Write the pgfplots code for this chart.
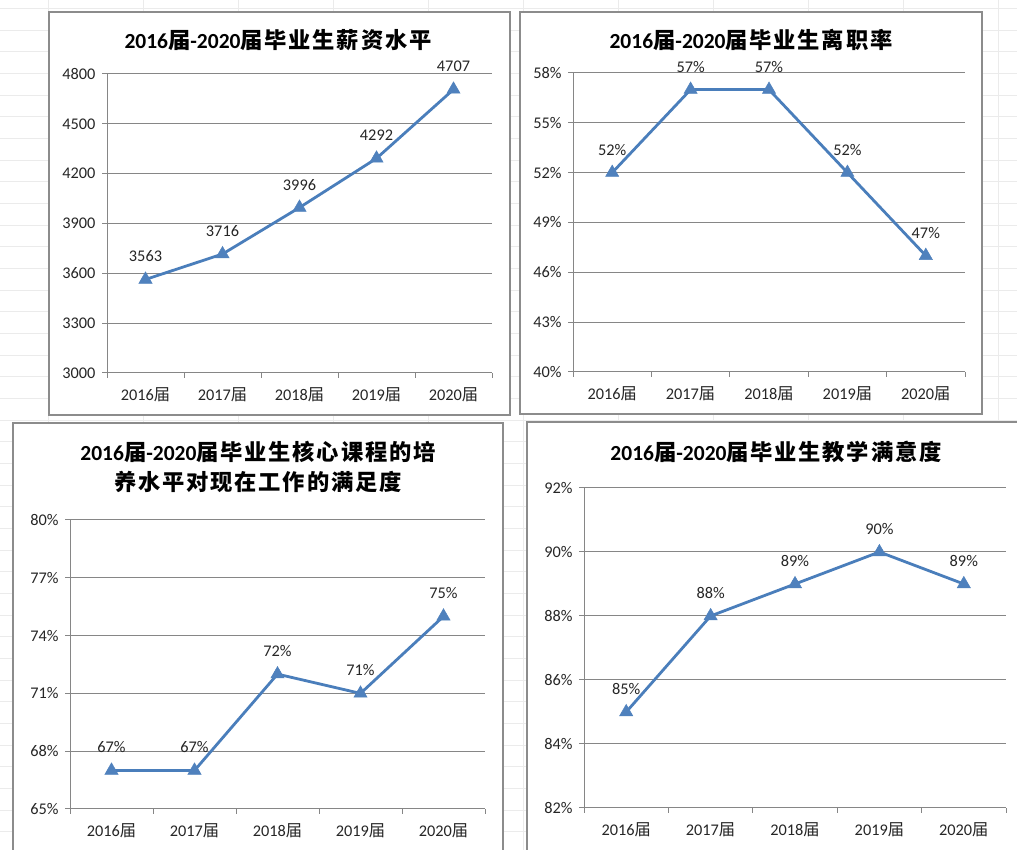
\documentclass[border=0pt]{standalone}
\usepackage{fontspec}
\setmainfont{Carlito}
\newfontfamily\cjk{Noto Sans CJK SC}
\newfontfamily\cjkt[LetterSpace=8]{Noto Sans CJK SC}
\usepackage{pgfplots}
\pgfplotsset{compat=1.18}

\definecolor{xlblue}{HTML}{4A7EBB}
\definecolor{xlmark}{HTML}{4F81BD}
\definecolor{xlgrid}{HTML}{868686}
\definecolor{xlframe}{HTML}{8C8C8C}
\definecolor{xltext}{HTML}{262626}

\newcommand\J{{\cjk 届}}
\newcommand\tf{\fontsize{16.3bp}{19bp}\selectfont}
\newcommand\ct[1]{{\cjkt\fontsize{22.3bp}{30bp}\selectfont #1}}
\newcommand\hd{2016\ct{届}-2020\ct{届}}

\pgfplotsset{
  xl/.style={
    scale only axis, anchor=south west,
    xmin=0.5, xmax=5.5,
    xtick={0.5,1.5,...,5.5},
    x tick label as interval,
    xticklabels={2016\J,2017\J,2018\J,2019\J,2020\J},
    axis x line*=bottom, axis y line*=left,
    axis line style={draw=xlgrid, line width=1bp, -},
    tick align=outside, major tick length=5bp,
    tick style={draw=xlgrid, line width=1bp},
    ymajorgrids, grid style={draw=xlgrid, line width=1bp},
    ticklabel style={font=\tf, text=xltext},
    xticklabel style={yshift=-6bp},
    yticklabel style={xshift=-3bp},
    point meta=explicit symbolic,
    nodes near coords,
    every node near coord/.append style={font=\tf, text=xltext, anchor=base, yshift=17.5bp},
    clip=false,
  },
  ln/.style={xlblue, line width=2.8bp, mark=triangle*, mark size=7.6bp,
    mark options={fill=xlmark, draw=xlmark, line width=0.5bp}},
}

\begin{document}
\begin{tikzpicture}[x=1bp, y=1bp]
\path[use as bounding box] (0,0) rectangle (1017,850);
\clip (0,0) rectangle (1017,850);

% spreadsheet cells behind the charts
\foreach \k in {-1,...,38} \draw[gray!16, line width=0.6bp] (0,820-21.67*\k) -- (1017,820-21.67*\k);
\foreach \k in {0,...,10} \draw[gray!16, line width=0.6bp] (48+95*\k,0) -- (48+95*\k,850);

% chart frames
\draw[xlframe, line width=1.5bp, fill=white] (49,435) rectangle (510,838);
\draw[xlframe, line width=1.5bp, fill=white] (520,436) rectangle (982,838);
\draw[xlframe, line width=1.5bp, fill=white] (13,-5) rectangle (503,427);
\draw[xlframe, line width=1.5bp, fill=white] (527,-5) rectangle (1025,428);

% titles
\begin{scope}[every node/.style={font=\fontsize{21.5bp}{30bp}\selectfont\bfseries, align=center}]
\node at (278,810) {\hd\ct{毕业生薪资水平}};
\node at (751,810) {\hd\ct{毕业生离职率}};
\node at (258,383) {\hd\ct{毕业生核心课程的培}\\\ct{养水平对现在工作的满足度}};
\node at (776,398) {\hd\ct{毕业生教学满意度}};
\end{scope}

\begin{axis}[xl, at={(107bp,477bp)}, width=385bp, height=299bp,
  ymin=3000, ymax=4800, ytick={3000,3300,...,4800},
  yticklabels={3000,3300,3600,3900,4200,4500,4800}]
\addplot[ln] coordinates {(1,3563)[3563] (2,3716)[3716] (3,3996)[3996] (4,4292)[4292] (5,4707)[4707]};
\end{axis}

\begin{axis}[xl, at={(573bp,478bp)}, width=392bp, height=299bp,
  ymin=40, ymax=58, ytick={40,43,...,58},
  yticklabels={40\%,43\%,46\%,49\%,52\%,55\%,58\%}]
\addplot[ln] coordinates {(1,52)[52\%] (2,57)[57\%] (3,57)[57\%] (4,52)[52\%] (5,47)[47\%]};
\end{axis}

\begin{axis}[xl, at={(70bp,41bp)}, width=415bp, height=289bp,
  ymin=65, ymax=80, ytick={65,68,...,80},
  yticklabels={65\%,68\%,71\%,74\%,77\%,80\%}]
\addplot[ln] coordinates {(1,67)[67\%] (2,67)[67\%] (3,72)[72\%] (4,71)[71\%] (5,75)[75\%]};
\end{axis}

\begin{axis}[xl, at={(584bp,42bp)}, width=422bp, height=320bp,
  ymin=82, ymax=92, ytick={82,84,...,92},
  yticklabels={82\%,84\%,86\%,88\%,90\%,92\%}]
\addplot[ln] coordinates {(1,85)[85\%] (2,88)[88\%] (3,89)[89\%] (4,90)[90\%] (5,89)[89\%]};
\end{axis}
\end{tikzpicture}
\end{document}
